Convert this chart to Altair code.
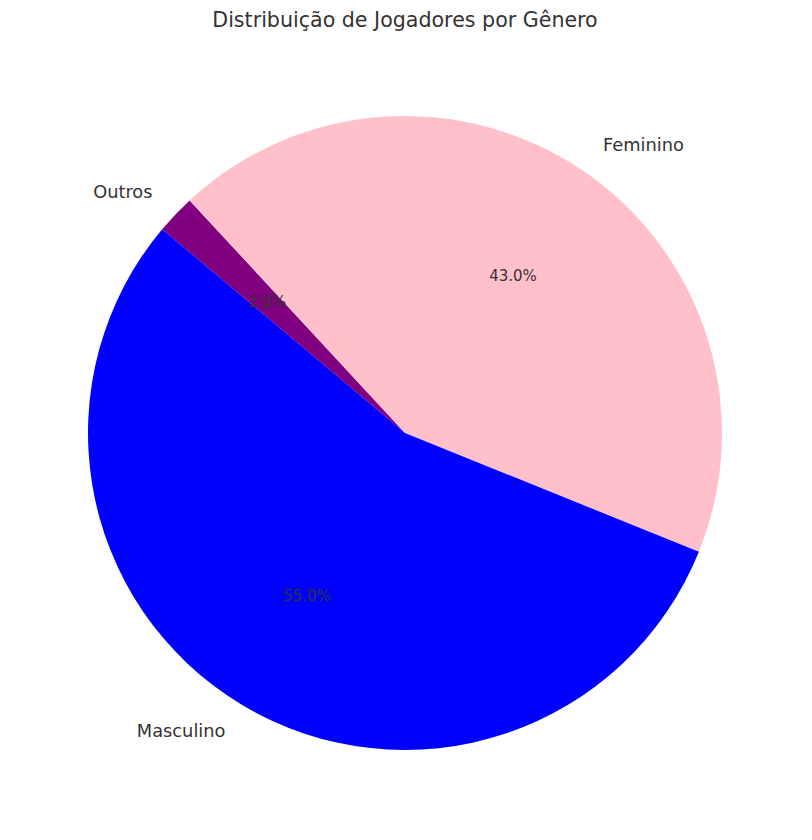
import math
import altair as alt
import pandas as pd

categories = ["Outros", "Feminino", "Masculino"]
values = [2.0, 43.0, 55.0]
colors = ["#800080", "#ffc0cb", "#0000ff"]
order = [0, 1, 2]
label_side = ["right", "left", "right"]

df = pd.DataFrame({
    "categoria": categories,
    "valor": values,
    "ordem": order,
    "lado": label_side,
    "pct": [f"{v:.1f}%" for v in values],
})

start = math.radians(310)
theta_scale = alt.Scale(domain=[0, 100], range=[start, start + 2 * math.pi])
R = 317

base = alt.Chart(df).transform_window(
    cum="sum(valor)", sort=[alt.SortField("ordem")]
).transform_calculate(mid="datum.cum - datum.valor / 2")

arcs = alt.Chart(df).mark_arc(outerRadius=R, stroke=None).encode(
    theta=alt.Theta("valor:Q", stack=True, scale=theta_scale),
    order=alt.Order("ordem:Q"),
    color=alt.Color(
        "categoria:N",
        scale=alt.Scale(domain=categories, range=colors),
        legend=None,
    ),
)

theta_mid = alt.Theta("mid:Q", stack=None, scale=theta_scale)

lab_left = base.transform_filter("datum.lado == 'left'").mark_text(
    radius=R * 1.1, align="left", baseline="middle", fontSize=17.8,
    font="DejaVu Sans", color="#333333"
).encode(theta=theta_mid, text="categoria:N")

lab_right = base.transform_filter("datum.lado == 'right'").mark_text(
    radius=R * 1.1, align="right", baseline="middle", fontSize=17.8,
    font="DejaVu Sans", color="#333333"
).encode(theta=theta_mid, text="categoria:N")

pcts = base.mark_text(
    radius=R * 0.6, align="center", baseline="middle", fontSize=15,
    font="DejaVu Sans", color="#333333"
).encode(theta=theta_mid, text="pct:N")

chart = alt.layer(arcs, lab_left, lab_right, pcts).properties(
    width=794,
    height=788,
    padding={"top": 3, "left": 0, "right": 0, "bottom": 0},
    title=alt.TitleParams(
        "Distribuição de Jogadores por Gênero",
        fontSize=20.6, font="DejaVu Sans", fontWeight="normal",
        color="#333333", anchor="middle", offset=7,
    ),
).configure_view(stroke=None)

chart.save("out.html", embed_options={"renderer": "svg", "actions": False})
